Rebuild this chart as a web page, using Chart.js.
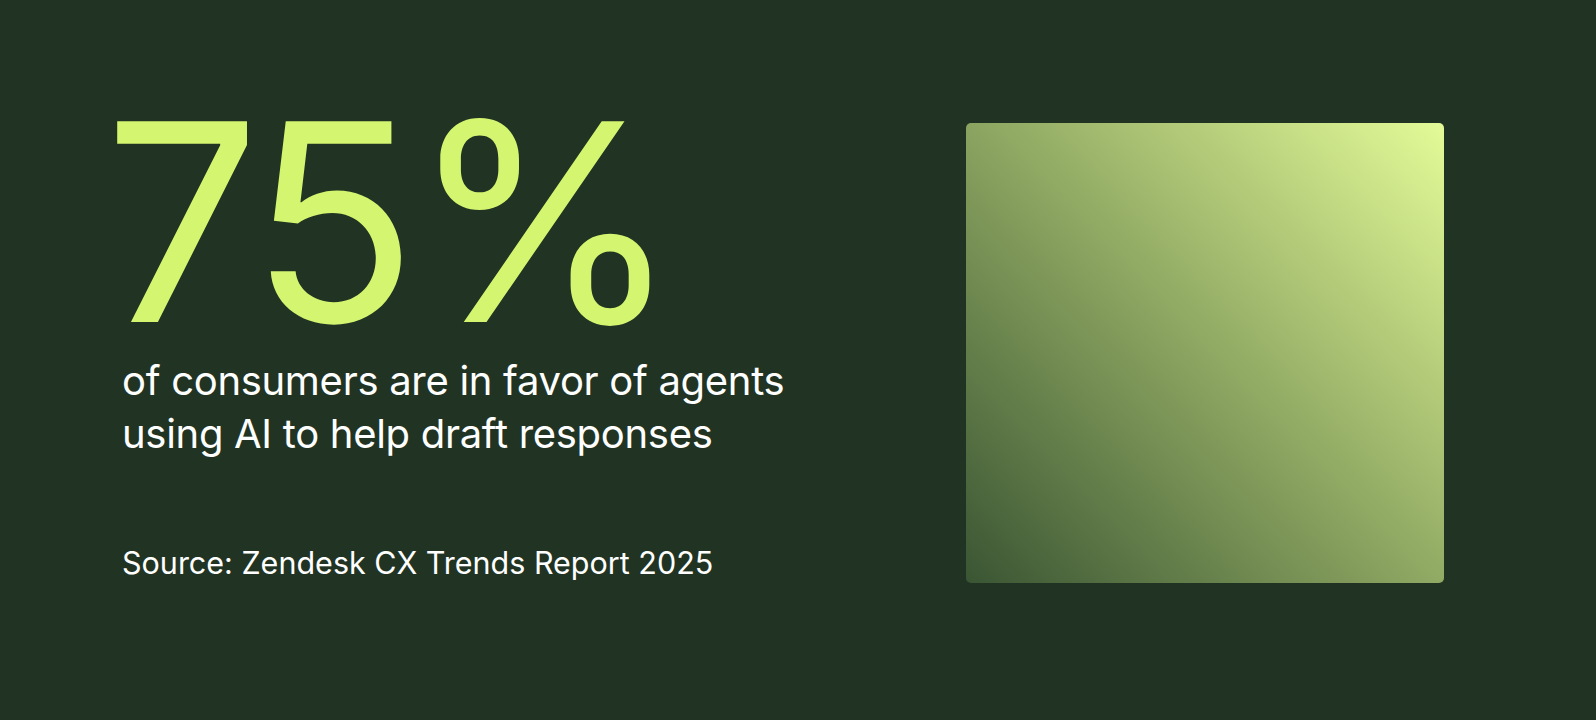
<!DOCTYPE html>
<html><head><meta charset="utf-8">
<script src="https://cdn.jsdelivr.net/npm/chart.js@4.4.1/dist/chart.umd.min.js"></script>
<style>
html,body{margin:0;padding:0;background:#213424;width:1596px;height:720px;overflow:hidden;font-family:Inter,"Noto Sans",sans-serif;}
#big{position:absolute;left:104px;top:119px;font-size:276px;line-height:0.75;height:207px;color:#d4f56f;letter-spacing:-8px;font-weight:400;}
#sub{position:absolute;left:122px;top:354px;font-size:40px;line-height:53px;color:#fff;letter-spacing:-0.3px;}
#src{position:absolute;left:122px;top:544px;font-size:30.5px;color:#fff;}
#wrap{position:absolute;left:966px;top:123px;width:478px;height:460px;border-radius:5px;overflow:hidden;}
</style></head><body>
<div id="big"></div>
<div id="sub">of consumers are in favor of agents<br>using AI to help draft responses</div>
<div id="src">Source: Zendesk CX Trends Report 2025</div>
<div id="wrap"><canvas id="c"></canvas></div>
<script>
const labels = ['All consumers', 'In favor of agents using AI'];
const shareValue = 75;
const boxWidths = [100, 73];
const boxHeights = [100, 67];
const gradStops = [['#3a5533', '#e4fb98'], ['#2a3d26', '#e3fb98']];
document.getElementById('big').textContent = shareValue + '%';

const datasets = labels.map((l, i) => ({
  label: l,
  data: [{x:0, y:boxHeights[i]}, {x:boxWidths[i], y:boxHeights[i]}],
  showLine: true, fill: 'origin', tension: 0, pointRadius: 0, borderWidth: 0,
  borderColor: 'rgba(0,0,0,0)',
  backgroundColor: (ctx) => {
    const ch = ctx.chart, a = ch.chartArea; if (!a) return gradStops[i][1];
    const xs = ch.scales.x, ys = ch.scales.y;
    const x0 = xs.getPixelForValue(0), x1 = xs.getPixelForValue(boxWidths[i]);
    const y0 = ys.getPixelForValue(0), y1 = ys.getPixelForValue(boxHeights[i]);
    const g = ch.ctx.createLinearGradient(x0, y0, x1, y1);
    g.addColorStop(0, gradStops[i][0]);
    g.addColorStop(0.5, '#8ea762');
    g.addColorStop(1, gradStops[i][1]);
    return g;
  }
}));
new Chart(document.getElementById('c'), {
  type: 'scatter',
  data: { datasets },
  options: {
    responsive: true, maintainAspectRatio: false, animation: false,
    layout: { padding: 0 },
    plugins: { legend: { display: false }, tooltip: { enabled: false } },
    scales: {
      x: { type: 'linear', min: 0, max: 100, display: false },
      y: { type: 'linear', min: 0, max: 100, display: false }
    }
  }
});
</script>
</body></html>
